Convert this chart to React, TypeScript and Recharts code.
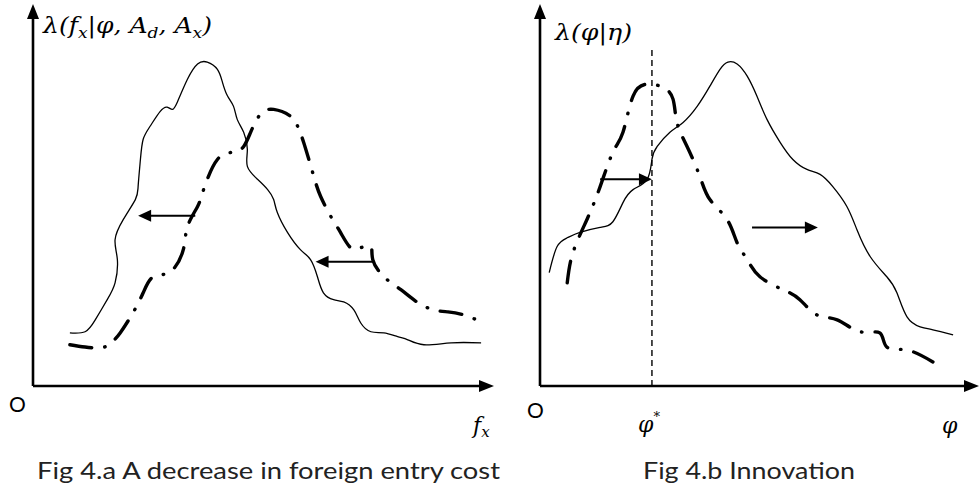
import React from "react";
import { LineChart, Line, XAxis, YAxis, ReferenceLine } from "recharts";

// ---------------------------------------------------------------------------
// Datos (unidades arbitrarias, ejes 0–100)
// ---------------------------------------------------------------------------

// Fig 4.a — densidad antes (punto-raya) y después (continua)
const fxBefore = [
  { x: 8.0, y: 10.8 }, { x: 11.3, y: 10.2 }, { x: 14.6, y: 10.0 }, { x: 16.7, y: 11.0 },
  { x: 18.9, y: 13.9 }, { x: 21.7, y: 19.2 }, { x: 23.9, y: 24.4 }, { x: 26.1, y: 28.6 },
  { x: 29.8, y: 29.9 }, { x: 32.6, y: 35.7 }, { x: 33.5, y: 41.7 }, { x: 35.7, y: 47.0 },
  { x: 37.0, y: 51.4 }, { x: 40.0, y: 59.3 }, { x: 43.5, y: 61.2 }, { x: 45.7, y: 62.7 },
  { x: 47.2, y: 66.4 }, { x: 49.3, y: 71.1 }, { x: 52.2, y: 72.4 }, { x: 55.9, y: 70.6 },
  { x: 57.4, y: 68.0 }, { x: 58.7, y: 63.8 }, { x: 60.9, y: 54.9 }, { x: 62.4, y: 49.6 },
  { x: 64.6, y: 44.4 }, { x: 66.7, y: 40.2 }, { x: 68.9, y: 36.2 }, { x: 71.1, y: 36.2 },
  { x: 73.3, y: 36.5 }, { x: 73.7, y: 33.1 }, { x: 76.1, y: 28.6 }, { x: 79.8, y: 25.2 },
  { x: 83.5, y: 21.8 }, { x: 87.0, y: 19.9 }, { x: 90.0, y: 19.4 }, { x: 93.5, y: 18.6 },
  { x: 97.8, y: 16.5 },
];

const fxAfter = [
  { x: 8.0, y: 13.9 }, { x: 11.3, y: 14.2 }, { x: 13.5, y: 17.3 }, { x: 16.1, y: 22.6 },
  { x: 17.8, y: 27.0 }, { x: 18.3, y: 33.1 }, { x: 17.8, y: 38.3 }, { x: 19.6, y: 43.6 },
  { x: 22.2, y: 48.8 }, { x: 22.8, y: 52.2 }, { x: 23.3, y: 59.3 }, { x: 23.9, y: 64.6 },
  { x: 25.4, y: 68.0 }, { x: 27.6, y: 71.9 }, { x: 29.1, y: 73.0 }, { x: 30.2, y: 72.4 },
  { x: 31.3, y: 74.3 }, { x: 33.5, y: 80.3 }, { x: 35.7, y: 84.3 }, { x: 37.8, y: 84.8 },
  { x: 40.0, y: 82.9 }, { x: 41.1, y: 79.5 }, { x: 42.2, y: 75.9 }, { x: 43.5, y: 73.2 },
  { x: 44.3, y: 69.8 }, { x: 45.7, y: 66.4 }, { x: 46.5, y: 61.9 }, { x: 46.5, y: 57.5 },
  { x: 48.7, y: 54.1 }, { x: 50.9, y: 51.4 }, { x: 52.2, y: 48.8 }, { x: 53.0, y: 45.4 },
  { x: 55.2, y: 40.2 }, { x: 58.0, y: 35.7 }, { x: 60.2, y: 33.1 }, { x: 61.7, y: 28.6 },
  { x: 63.0, y: 24.4 }, { x: 65.2, y: 22.6 }, { x: 67.4, y: 22.0 }, { x: 69.6, y: 19.9 },
  { x: 71.1, y: 16.5 }, { x: 73.3, y: 14.2 }, { x: 76.1, y: 13.9 }, { x: 79.1, y: 12.9 },
  { x: 81.3, y: 12.1 }, { x: 84.8, y: 10.8 }, { x: 90.7, y: 11.3 }, { x: 97.2, y: 11.3 },
];

// flechas de desplazamiento (desde -> hacia)
const fxShifts = [
  { from: { x: 35.2, y: 44.6 }, to: { x: 22.8, y: 44.6 } },
  { from: { x: 73.9, y: 32.5 }, to: { x: 61.3, y: 32.5 } },
];

// Fig 4.b — densidad antes (punto-raya) y después (continua)
const phiBefore = [
  { x: 6.2, y: 27.0 }, { x: 7.5, y: 34.9 }, { x: 10.7, y: 43.6 }, { x: 13.7, y: 52.2 },
  { x: 16.6, y: 61.2 }, { x: 18.9, y: 66.4 }, { x: 21.2, y: 75.9 }, { x: 24.4, y: 79.0 },
  { x: 28.0, y: 78.2 }, { x: 30.3, y: 75.1 }, { x: 31.2, y: 69.0 }, { x: 33.5, y: 62.7 },
  { x: 36.4, y: 54.9 }, { x: 38.7, y: 48.8 }, { x: 42.6, y: 43.6 }, { x: 44.9, y: 37.5 },
  { x: 47.2, y: 33.1 }, { x: 50.1, y: 28.6 }, { x: 55.4, y: 25.2 }, { x: 59.2, y: 22.6 },
  { x: 63.1, y: 18.6 }, { x: 67.7, y: 17.3 }, { x: 72.9, y: 14.2 }, { x: 77.4, y: 13.9 },
  { x: 79.0, y: 10.2 }, { x: 83.6, y: 9.4 }, { x: 89.5, y: 6.3 },
];

const phiAfter = [
  { x: 2.1, y: 29.7 }, { x: 3.9, y: 36.5 }, { x: 6.2, y: 38.8 }, { x: 9.1, y: 40.2 },
  { x: 13.7, y: 41.5 }, { x: 16.6, y: 43.0 }, { x: 18.9, y: 48.0 }, { x: 21.2, y: 51.4 },
  { x: 24.4, y: 54.1 }, { x: 25.5, y: 59.3 }, { x: 26.7, y: 62.7 }, { x: 29.6, y: 66.4 },
  { x: 32.6, y: 69.0 }, { x: 35.8, y: 73.2 }, { x: 38.7, y: 78.5 }, { x: 41.0, y: 82.9 },
  { x: 42.8, y: 84.8 }, { x: 44.9, y: 84.3 }, { x: 47.2, y: 81.1 }, { x: 49.4, y: 75.9 },
  { x: 51.7, y: 69.8 }, { x: 54.7, y: 63.8 }, { x: 57.6, y: 59.3 }, { x: 60.8, y: 56.7 },
  { x: 63.8, y: 55.4 }, { x: 66.7, y: 52.2 }, { x: 69.9, y: 47.0 }, { x: 72.2, y: 40.9 },
  { x: 75.2, y: 33.9 }, { x: 79.0, y: 28.6 }, { x: 81.3, y: 24.4 }, { x: 83.6, y: 18.1 },
  { x: 86.6, y: 15.5 }, { x: 89.5, y: 14.7 }, { x: 94.1, y: 13.4 },
];

const phiShifts = [
  { from: { x: 13.7, y: 54.1 }, to: { x: 25.5, y: 54.1 } },
  { from: { x: 48.3, y: 41.5 }, to: { x: 63.3, y: 41.5 } },
];

const PHI_STAR = 25.5;
const PHI_STAR_TOP = 88.2;

// ---------------------------------------------------------------------------
// Estilos
// ---------------------------------------------------------------------------
const INK = "#000";
const DASH_DOT = "22 13 0.5 13";
const SERIF = "'DejaVu Serif', 'Liberation Serif', serif";
const SANS = "Lato, 'Open Sans', sans-serif";

// línea con punta de flecha (para ejes y desplazamientos)
function arrowShape(width: number, headLen: number, headHalf: number) {
  return (p: any) => {
    const { x1, y1, x2, y2 } = p;
    const dx = x2 - x1;
    const dy = y2 - y1;
    const len = Math.sqrt(dx * dx + dy * dy) || 1;
    const ux = dx / len;
    const uy = dy / len;
    const bx = x2 - ux * headLen;
    const by = y2 - uy * headLen;
    const pts = [
      `${x2},${y2}`,
      `${bx - uy * headHalf},${by + ux * headHalf}`,
      `${bx + uy * headHalf},${by - ux * headHalf}`,
    ].join(" ");
    return (
      <g>
        <line x1={x1} y1={y1} x2={bx + ux} y2={by + uy} stroke={INK} strokeWidth={width} />
        <polygon points={pts} fill={INK} />
      </g>
    );
  };
}

const axisArrow = arrowShape(2.6, 15, 6);
const shiftArrow = arrowShape(2, 13, 6);

function Panel({
  width,
  height,
  margin,
  before,
  after,
  shifts,
  children,
}: {
  width: number;
  height: number;
  margin: { top: number; left: number; right: number; bottom: number };
  before: { x: number; y: number }[];
  after: { x: number; y: number }[];
  shifts: { from: { x: number; y: number }; to: { x: number; y: number } }[];
  children?: React.ReactNode;
}) {
  return (
    <LineChart width={width} height={height} margin={margin}>
      <XAxis type="number" dataKey="x" domain={[0, 100]} hide />
      <YAxis type="number" dataKey="y" domain={[0, 100]} hide />
      {children}
      <Line
        data={before}
        dataKey="y"
        type="natural"
        stroke={INK}
        strokeWidth={3.4}
        strokeDasharray={DASH_DOT}
        strokeLinecap="round"
        dot={false}
        activeDot={false}
        isAnimationActive={false}
      />
      <Line
        data={after}
        dataKey="y"
        type="natural"
        stroke={INK}
        strokeWidth={1.3}
        dot={false}
        activeDot={false}
        isAnimationActive={false}
      />
      {shifts.map((s, i) => (
        <ReferenceLine
          key={i}
          segment={[s.from, s.to]}
          ifOverflow="visible"
          shape={shiftArrow}
        />
      ))}
      <ReferenceLine segment={[{ x: 0, y: 0 }, { x: 100, y: 0 }]} ifOverflow="visible" shape={axisArrow} />
      <ReferenceLine segment={[{ x: 0, y: 0 }, { x: 0, y: 100 }]} ifOverflow="visible" shape={axisArrow} />
    </LineChart>
  );
}

export default function App() {
  return (
    <div
      style={{
        position: "absolute",
        left: 0,
        top: 0,
        width: 979,
        height: 490,
        background: "#fff",
        overflow: "hidden",
      }}
    >
      <div style={{ position: "absolute", left: 0, top: 0 }}>
        <Panel
          width={500}
          height={400}
          margin={{ top: 4, left: 33, right: 6, bottom: 14 }}
          before={fxBefore}
          after={fxAfter}
          shifts={fxShifts}
        />
      </div>
      <div style={{ position: "absolute", left: 500, top: 0 }}>
        <Panel
          width={479}
          height={400}
          margin={{ top: 4, left: 40, right: 0, bottom: 14 }}
          before={phiBefore}
          after={phiAfter}
          shifts={phiShifts}
        >
          <ReferenceLine
            segment={[{ x: PHI_STAR, y: 0 }, { x: PHI_STAR, y: PHI_STAR_TOP }]}
            stroke={INK}
            strokeWidth={1.4}
            strokeDasharray="6 4"
            ifOverflow="visible"
          />
        </Panel>
      </div>

      {/* rótulos */}
      <svg
        width={979}
        height={490}
        style={{ position: "absolute", left: 0, top: 0, pointerEvents: "none" }}
      >
        <text
          x={43}
          y={33}
          fontFamily={SERIF}
          fontStyle="italic"
          fontSize={22}
          fill={INK}
          textLength={169}
          lengthAdjust="spacingAndGlyphs"
        >
          λ(<tspan>f</tspan>
          <tspan fontSize={15} dy={5}>x</tspan>
          <tspan dy={-5}>|φ, A</tspan>
          <tspan fontSize={15} dy={5}>d</tspan>
          <tspan dy={-5}>, A</tspan>
          <tspan fontSize={15} dy={5}>x</tspan>
          <tspan dy={-5}>)</tspan>
        </text>
        <text
          x={555}
          y={40}
          fontFamily={SERIF}
          fontStyle="italic"
          fontSize={22}
          fill={INK}
          textLength={77}
          lengthAdjust="spacingAndGlyphs"
        >
          λ(φ|η)
        </text>

        <text x={9} y={412} fontFamily={SANS} fontSize={21} fill={INK}>O</text>
        <text x={527} y={418} fontFamily={SANS} fontSize={21} fill={INK}>O</text>

        <text x={473} y={433} fontFamily={SERIF} fontStyle="italic" fontSize={22} fill={INK}>
          f<tspan fontSize={15} dy={4}>x</tspan>
        </text>
        <text x={638} y={432} fontFamily={SERIF} fontStyle="italic" fontSize={22} fill={INK}>
          φ<tspan fontSize={13} dy={-11}>*</tspan>
        </text>
        <text x={942} y={433} fontFamily={SERIF} fontStyle="italic" fontSize={22} fill={INK}>φ</text>

        <text
          x={37}
          y={479}
          fontFamily={SANS}
          fontSize={24}
          fill="#222"
          textLength={463}
          lengthAdjust="spacingAndGlyphs"
        >
          Fig 4.a A decrease in foreign entry cost
        </text>
        <text
          x={643}
          y={479}
          fontFamily={SANS}
          fontSize={24}
          fill="#222"
          textLength={212}
          lengthAdjust="spacingAndGlyphs"
        >
          Fig 4.b Innovation
        </text>
      </svg>
    </div>
  );
}
